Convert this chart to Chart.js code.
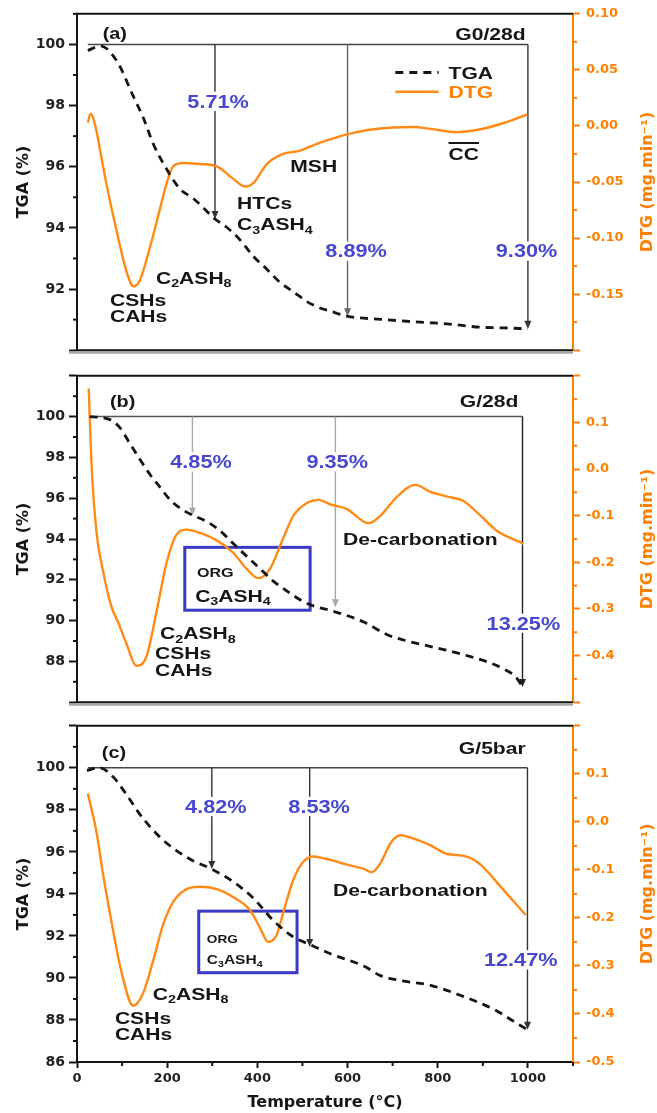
<!DOCTYPE html>
<html>
<head>
<meta charset="utf-8">
<script src="https://cdn.jsdelivr.net/npm/chart.js@4/dist/chart.umd.min.js"></script>
<style>
  html, body { margin: 0; padding: 0; background: #fff; }
  #wrap { position: relative; width: 657px; height: 1113px; overflow: hidden; background: #fff; }
  #wrap canvas { position: absolute; left: 0; }
</style>
</head>
<body>
<div id="wrap">
  <canvas id="panelA" width="657" height="364" style="top:0px;width:657px;height:364px"></canvas>
  <canvas id="panelB" width="657" height="354" style="top:362px;width:657px;height:354px"></canvas>
  <canvas id="panelC" width="657" height="401" style="top:712px;width:657px;height:401px"></canvas>
</div>
<script>
// ---------- (a) G0/28d ----------
const tempTgaA = [24, 52, 89, 124, 147, 169, 191, 228, 258, 288, 306, 332, 362, 391, 421, 450, 480, 510, 539, 561, 600, 673, 747, 821, 895, 946, 1000];
const tgaA     = [99.80, 99.95, 99.44, 98.33, 97.60, 96.75, 96.12, 95.28, 94.96, 94.54, 94.29, 94.02, 93.60, 93.07, 92.65, 92.22, 91.91, 91.59, 91.38, 91.28, 91.11, 91.01, 90.93, 90.86, 90.75, 90.73, 90.70];
const tempDtgA = [24, 30, 43, 50, 65, 88, 110, 125, 139, 162, 184, 199, 213, 236, 273, 310, 346, 373, 391, 421, 457, 495, 532, 561, 599, 658, 747, 784, 843, 895, 946, 999];
const dtgA     = [0.003, 0.011, -0.004, -0.019, -0.051, -0.094, -0.130, -0.143, -0.138, -0.108, -0.074, -0.051, -0.036, -0.033, -0.034, -0.036, -0.047, -0.054, -0.051, -0.034, -0.025, -0.022, -0.016, -0.012, -0.0075, -0.003, -0.001, -0.0026, -0.0055, -0.003, 0.0026, 0.0104];
const lossTempA = [306, 600, 1000];
const lossA     = [5.71, 8.89, 9.30];

// ---------- (b) G/28d ----------
const tempTgaB = [28, 73, 95, 117, 139, 162, 184, 206, 232, 258, 288, 318, 347, 376, 406, 436, 465, 502, 539, 562, 636, 688, 732, 776, 821, 873, 917, 947, 973, 988];
const tgaB     = [100.0, 99.85, 99.46, 98.69, 97.92, 97.16, 96.54, 95.93, 95.46, 95.15, 94.85, 94.39, 93.77, 93.16, 92.54, 91.92, 91.46, 90.93, 90.62, 90.50, 89.93, 89.31, 89.00, 88.77, 88.54, 88.23, 87.92, 87.62, 87.24, 86.75];
const tempDtgB = [26, 32, 43, 58, 76, 91, 110, 132, 154, 176, 199, 221, 243, 273, 310, 347, 376, 402, 428, 458, 480, 510, 536, 562, 599, 636, 647, 673, 710, 750, 784, 821, 858, 895, 932, 990];
const dtgB     = [0.173, 0.015, -0.133, -0.220, -0.294, -0.328, -0.375, -0.422, -0.402, -0.308, -0.200, -0.140, -0.130, -0.137, -0.153, -0.180, -0.214, -0.234, -0.214, -0.147, -0.100, -0.073, -0.066, -0.076, -0.086, -0.113, -0.116, -0.100, -0.059, -0.034, -0.049, -0.059, -0.069, -0.100, -0.133, -0.160];
const lossTempB = [256, 573, 988];
const lossB     = [4.85, 9.35, 13.25];

// ---------- (c) G/5bar ----------
const tempTgaC = [22, 50, 80, 110, 139, 169, 199, 228, 258, 299, 347, 391, 436, 480, 516, 562, 636, 673, 717, 784, 858, 902, 932, 962, 999];
const tgaC     = [99.88, 100.0, 99.57, 98.72, 97.80, 97.03, 96.41, 95.95, 95.57, 95.18, 94.57, 93.80, 92.72, 91.95, 91.60, 91.15, 90.57, 90.11, 89.88, 89.65, 89.11, 88.73, 88.42, 88.02, 87.53];
const tempDtgC = [24, 43, 58, 75, 98, 125, 147, 169, 191, 213, 243, 273, 310, 347, 384, 406, 424, 443, 458, 480, 502, 524, 547, 562, 599, 636, 654, 673, 695, 717, 747, 784, 821, 858, 895, 932, 995];
const dtgC     = [0.059, -0.020, -0.110, -0.200, -0.310, -0.383, -0.356, -0.289, -0.214, -0.167, -0.140, -0.135, -0.140, -0.157, -0.184, -0.221, -0.250, -0.235, -0.187, -0.120, -0.083, -0.072, -0.076, -0.079, -0.089, -0.098, -0.105, -0.086, -0.045, -0.028, -0.035, -0.049, -0.067, -0.071, -0.089, -0.127, -0.194];
const lossTempC = [299, 516, 999];
const lossC     = [4.82, 8.53, 12.47];

// ---------- styling ----------
const ORANGE   = '#ff8000';
const DTG_LINE = '#ff8a16';
const INK      = '#151515';
const PCT_BLUE = '#4747d2';
const BOX_BLUE = '#3a3ac6';
const TXT_FONT = '"Liberation Sans", Arial, sans-serif';
const AX_FONT  = '"DejaVu Sans", sans-serif';
const STRETCH  = 1.24;   // wide lettering used for the annotations

const pts = (xs, ys) => xs.map((x, i) => ({ x, y: ys[i] }));

// text with '_' marking a one-character subscript; y is the centre of the capitals
function parseRich(text) {
  const segs = []; let buf = '';
  for (let i = 0; i < text.length; i++) {
    if (text[i] === '_') {
      if (buf) { segs.push({ t: buf, sub: false }); buf = ''; }
      segs.push({ t: text[++i], sub: true });
    } else buf += text[i];
  }
  if (buf) segs.push({ t: buf, sub: false });
  return segs;
}
function drawRich(ctx, text, x, y, o) {
  const size = o.size || 17, sx = o.sx || STRETCH, subSize = size * 0.68;
  const segs = parseRich(text);
  ctx.save();
  let w = 0;
  segs.forEach(s => { ctx.font = `bold ${s.sub ? subSize : size}px ${TXT_FONT}`; s.w = ctx.measureText(s.t).width; w += s.w; });
  const W = w * sx;
  const x0 = o.align === 'right' ? x - W : o.align === 'center' ? x - W / 2 : x;
  if (o.bg) { ctx.fillStyle = o.bg; ctx.fillRect(x0 - 3, y - size * 0.55, W + 6, size * 1.1); }
  ctx.translate(x0, y + size * 0.36);
  ctx.scale(sx, 1);
  ctx.fillStyle = o.color || INK;
  ctx.textAlign = 'left';
  ctx.textBaseline = 'alphabetic';
  let cx = 0;
  segs.forEach(s => {
    ctx.font = `bold ${s.sub ? subSize : size}px ${TXT_FONT}`;
    ctx.fillText(s.t, cx, s.sub ? size * 0.2 : 0);
    cx += s.w;
  });
  ctx.restore();
  return { x0, W };
}

function drawArrow(ctx, x, y0, y1, color) {
  ctx.save();
  ctx.strokeStyle = color; ctx.fillStyle = color; ctx.lineWidth = 1.4;
  ctx.beginPath(); ctx.moveTo(x, y0); ctx.lineTo(x, y1 - 4); ctx.stroke();
  ctx.beginPath(); ctx.moveTo(x, y1); ctx.lineTo(x - 3.5, y1 - 8); ctx.lineTo(x + 3.5, y1 - 8); ctx.closePath(); ctx.fill();
  ctx.restore();
}

// reference line at 100 %, mass-loss arrows, boxes, labels and legend
const notesPlugin = {
  id: 'notes',
  beforeDatasetsDraw(chart, args, o) {
    const ctx = chart.ctx, xs = chart.scales.x, ys = chart.scales.y;
    const X = v => xs.getPixelForValue(v), Y = v => ys.getPixelForValue(v);
    ctx.save();
    (o.boxes || []).forEach(b => {
      ctx.strokeStyle = BOX_BLUE; ctx.lineWidth = 3;
      ctx.strokeRect(X(b.x0), Y(b.y1), X(b.x1) - X(b.x0), Y(b.y0) - Y(b.y1));
    });
    ctx.strokeStyle = o.baseline.color; ctx.lineWidth = 1.5;
    ctx.beginPath(); ctx.moveTo(X(o.baseline.from), Y(100)); ctx.lineTo(X(o.baseline.to), Y(100)); ctx.stroke();
    o.lossTemps.forEach((t, i) => drawArrow(ctx, X(t), Y(100), Y(100 - o.losses[i]), o.arrowColors[i]));
    o.lossLabelAt.forEach((p, i) => drawRich(ctx, o.losses[i].toFixed(2) + '%', X(p[0]), Y(p[1]),
      { size: 17.5, color: PCT_BLUE, align: 'center', bg: '#fff' }));
    ctx.restore();
  },
  afterDatasetsDraw(chart, args, o) {
    const ctx = chart.ctx, xs = chart.scales.x, ys = chart.scales.y;
    const X = v => xs.getPixelForValue(v), Y = v => ys.getPixelForValue(v);
    ctx.save();
    o.texts.forEach(tx => {
      const size = tx.size || 17;
      const r = drawRich(ctx, tx.text, X(tx.x), Y(tx.y), { size, align: tx.align, color: INK });
      if (tx.overline) {
        ctx.strokeStyle = INK; ctx.lineWidth = 2;
        const yo = Y(tx.y) - size * 0.62;
        ctx.beginPath(); ctx.moveTo(r.x0, yo); ctx.lineTo(r.x0 + r.W, yo); ctx.stroke();
      }
    });
    if (o.legend) {
      const L = o.legend;
      chart.data.datasets.forEach((ds, i) => {
        const y = Y(L.rows[i]);
        ctx.strokeStyle = ds.borderColor; ctx.lineWidth = ds.borderWidth;
        ctx.setLineDash(ds.borderDash || []);
        ctx.beginPath(); ctx.moveTo(X(L.x0), y); ctx.lineTo(X(L.x1), y); ctx.stroke();
        ctx.setLineDash([]);
        drawRich(ctx, ds.label, X(L.tx), y, { size: 17, color: i ? ORANGE : INK });
      });
    }
    ctx.restore();
  }
};

// short unlabelled ticks between the major ones
const minorTicksPlugin = {
  id: 'minorTicks',
  afterDraw(chart, args, o) {
    const ctx = chart.ctx;
    (o.items || []).forEach(it => {
      const sc = chart.scales[it.scale];
      if (!sc || !sc.options.display) return;
      ctx.save();
      ctx.strokeStyle = it.color; ctx.lineWidth = 2;
      const n = Math.round((sc.max - sc.min) / it.step);
      for (let k = 0; k <= n; k++) {
        const v = sc.min + k * it.step;
        const r = v / it.major;
        if (Math.abs(r - Math.round(r)) < 1e-6) continue;
        const p = sc.getPixelForValue(v);
        ctx.beginPath();
        if (sc.axis === 'x') { ctx.moveTo(p, sc.top); ctx.lineTo(p, sc.top + 4); }
        else if (sc.position === 'left') { ctx.moveTo(sc.right, p); ctx.lineTo(sc.right - 4, p); }
        else { ctx.moveTo(sc.left, p); ctx.lineTo(sc.left + 4, p); }
        ctx.stroke();
      }
      ctx.restore();
    });
  }
};

// panel frame: top/bottom rules, grey band between stacked panels, right-hand title
const framePlugin = {
  id: 'frame',
  afterDraw(chart, args, o) {
    const ctx = chart.ctx, ca = chart.chartArea;
    ctx.save();
    ctx.strokeStyle = INK; ctx.lineWidth = 2;
    ctx.beginPath(); ctx.moveTo(ca.left - 1, ca.top); ctx.lineTo(ca.right, ca.top); ctx.stroke();
    if (o.bottomRule) {
      ctx.beginPath(); ctx.moveTo(ca.left - 1, ca.bottom); ctx.lineTo(ca.right, ca.bottom); ctx.stroke();
      ctx.fillStyle = '#a4a4a4';
      ctx.fillRect(ca.left - 8, ca.bottom + 1, ca.right - ca.left + 8, 2.5);
    }
    ctx.translate(o.titleX, (ca.top + ca.bottom) / 2);
    ctx.rotate(-Math.PI / 2);
    ctx.font = `bold 16px ${AX_FONT}`;
    ctx.fillStyle = ORANGE; ctx.textAlign = 'center'; ctx.textBaseline = 'middle';
    ctx.fillText('DTG (mg.min\u207B\u00B9)', 0, 0);
    ctx.restore();
  }
};

const near = (a, b) => Math.abs(a - b) < 1e-9;

function leftAxis(min, max, hidden) {
  return {
    position: 'left', min, max,
    ticks: {
      stepSize: 2, includeBounds: false, color: '#222', padding: 4,
      font: { family: AX_FONT, weight: 'bold', size: 14 },
      callback: v => hidden.some(h => near(h, v)) ? '' : String(v)
    },
    grid: { drawOnChartArea: false, drawTicks: true, tickLength: 8, tickWidth: 2, tickColor: INK },
    border: { display: true, color: INK, width: 2 },
    title: { display: true, text: 'TGA (%)', color: INK, font: { family: AX_FONT, weight: 'bold', size: 16 }, padding: { top: 14, bottom: 0 } },
    afterFit(s) { s.width = 77; }
  };
}
function rightAxis(min, max, step, dec, hidden) {
  return {
    position: 'right', min, max,
    ticks: {
      stepSize: step, includeBounds: false, color: ORANGE, padding: 6,
      font: { family: AX_FONT, weight: 'bold', size: 13 },
      callback: v => hidden.some(h => near(h, v)) ? '' : (Math.abs(v) < 1e-9 ? 0 : v).toFixed(dec)
    },
    grid: { drawOnChartArea: false, drawTicks: true, tickLength: 7, tickWidth: 2, tickColor: ORANGE },
    border: { display: true, color: ORANGE, width: 2 },
    afterFit(s) { s.width = 84; }
  };
}
function xAxis(show) {
  return {
    type: 'linear', min: 0, max: 1100, display: show,
    ticks: { stepSize: 200, includeBounds: false, color: '#222', padding: 3, maxRotation: 0,
      font: { family: AX_FONT, weight: 'bold', size: 13 },
      callback: v => String(v) },
    grid: { drawOnChartArea: false, drawTicks: true, tickLength: 6, tickWidth: 2, tickColor: INK },
    border: { display: true, color: INK, width: 2 },
    title: { display: show, text: 'Temperature (\u00B0C)', color: INK, font: { family: AX_FONT, weight: 'bold', size: 16 }, padding: { top: 0, bottom: 1 } },
    afterFit(s) { if (show) s.height = 51; }
  };
}

function panel(id, cfg) {
  return new Chart(document.getElementById(id), {
    type: 'line',
    data: {
      datasets: [
        { label: 'TGA', data: pts(cfg.tgaT, cfg.tga), yAxisID: 'y', borderColor: INK, borderWidth: 2.8,
          borderDash: [8, 6], pointRadius: 0, fill: false, cubicInterpolationMode: 'monotone' },
        { label: 'DTG', data: pts(cfg.dtgT, cfg.dtg), yAxisID: 'y1', borderColor: DTG_LINE, borderWidth: 2.4,
          pointRadius: 0, fill: false, cubicInterpolationMode: 'monotone' }
      ]
    },
    options: {
      responsive: false, animation: false, devicePixelRatio: 1, events: [],
      layout: { padding: cfg.padding },
      scales: { x: xAxis(cfg.showX), y: cfg.left, y1: cfg.right },
      plugins: {
        legend: { display: false }, tooltip: { enabled: false },
        notes: cfg.notes,
        minorTicks: { items: [
          { scale: 'y', step: 1, major: 2, color: INK },
          { scale: 'y1', step: cfg.rightMinor, major: cfg.rightMajor, color: ORANGE },
          { scale: 'x', step: 100, major: 200, color: INK }
        ] },
        frame: { bottomRule: cfg.bottomRule, titleX: 648 }
      }
    },
    plugins: [notesPlugin, minorTicksPlugin, framePlugin]
  });
}

panel('panelA', {
  tgaT: tempTgaA, tga: tgaA, dtgT: tempDtgA, dtg: dtgA, showX: false, bottomRule: true,
  padding: { top: 12, bottom: 4, left: 0, right: 0 },
  left: leftAxis(90, 101, [90]),
  right: rightAxis(-0.2, 0.1, 0.05, 2, [-0.2]), rightMinor: 0.025, rightMajor: 0.05,
  notes: {
    baseline: { from: 24, to: 1000, color: '#444' },
    lossTemps: lossTempA, losses: lossA, arrowColors: ['#333', '#666', '#333'],
    lossLabelAt: [[313, 98.14], [619, 93.24], [997, 93.24]],
    texts: [
      { text: '(a)', x: 57, y: 100.35, size: 16 },
      { text: 'G0/28d', x: 995, y: 100.35, size: 17, align: 'right' },
      { text: 'CSHs', x: 73, y: 91.66 },
      { text: 'CAHs', x: 73, y: 91.12 },
      { text: 'C_2ASH_8', x: 175, y: 92.38 },
      { text: 'HTCs', x: 355, y: 94.82 },
      { text: 'C_3ASH_4', x: 355, y: 94.12 },
      { text: 'MSH', x: 473, y: 96.02 },
      { text: 'CC', x: 824, y: 96.43, overline: true }
    ],
    legend: { x0: 706, x1: 802, tx: 824, rows: [99.08, 98.45] }
  }
});

panel('panelB', {
  tgaT: tempTgaB, tga: tgaB, dtgT: tempDtgB, dtg: dtgB, showX: false, bottomRule: true,
  padding: { top: 2, bottom: 6, left: 0, right: 0 },
  left: leftAxis(86, 102, [86, 102]),
  right: rightAxis(-0.5, 0.2, 0.1, 1, [-0.5, 0.2]), rightMinor: 0.05, rightMajor: 0.1,
  notes: {
    baseline: { from: 28, to: 988, color: '#555' },
    lossTemps: lossTempB, losses: lossB, arrowColors: ['#aaa', '#aaa', '#222'],
    lossLabelAt: [[275, 97.78], [577, 97.78], [990, 89.87]],
    boxes: [{ x0: 239, x1: 517, y0: 90.51, y1: 93.59 }],
    texts: [
      { text: '(b)', x: 73, y: 100.75, size: 16 },
      { text: 'G/28d', x: 979, y: 100.79, size: 17, align: 'right' },
      { text: 'ORG', x: 266, y: 92.37, size: 13 },
      { text: 'C_3ASH_4', x: 262, y: 91.22, size: 17 },
      { text: 'C_2ASH_8', x: 184, y: 89.38 },
      { text: 'CSHs', x: 173, y: 88.40 },
      { text: 'CAHs', x: 173, y: 87.56 },
      { text: 'De-carbonation', x: 590, y: 94.0 }
    ]
  }
});

panel('panelC', {
  tgaT: tempTgaC, tga: tgaC, dtgT: tempDtgC, dtg: dtgC, showX: true, bottomRule: false,
  padding: { top: 4, bottom: 0, left: 0, right: 0 },
  left: leftAxis(86, 102, [102]),
  right: rightAxis(-0.5, 0.2, 0.1, 1, [0.2]), rightMinor: 0.05, rightMajor: 0.1,
  notes: {
    baseline: { from: 24, to: 999, color: '#444' },
    lossTemps: lossTempC, losses: lossC, arrowColors: ['#333', '#333', '#333'],
    lossLabelAt: [[308, 98.16], [537, 98.16], [984, 90.86]],
    boxes: [{ x0: 270, x1: 488, y0: 90.25, y1: 93.18 }],
    texts: [
      { text: '(c)', x: 55, y: 100.75, size: 16 },
      { text: 'G/5bar', x: 995, y: 100.94, size: 17, align: 'right' },
      { text: 'ORG', x: 288, y: 91.83, size: 11 },
      { text: 'C_3ASH_4', x: 288, y: 90.87, size: 12.5 },
      { text: 'C_2ASH_8', x: 168, y: 89.25 },
      { text: 'CSHs', x: 84, y: 88.08 },
      { text: 'CAHs', x: 84, y: 87.34 },
      { text: 'De-carbonation', x: 568, y: 94.18 }
    ]
  }
});
</script>
</body>
</html>
